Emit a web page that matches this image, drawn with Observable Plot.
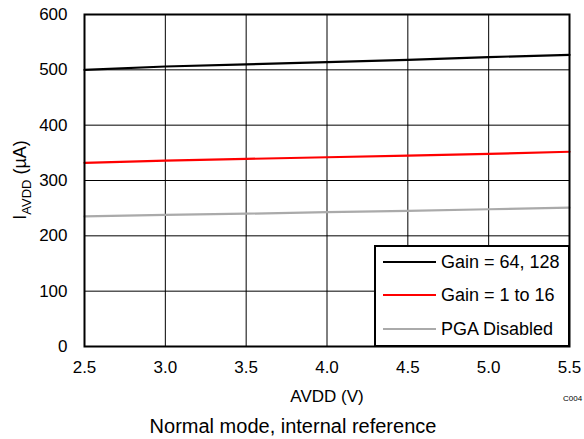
<!DOCTYPE html>
<html>
<head>
<meta charset="utf-8">
<script src="https://cdn.jsdelivr.net/npm/d3@7"></script>
<script src="https://cdn.jsdelivr.net/npm/@observablehq/plot@0.6"></script>
<style>
  html, body { margin: 0; padding: 0; background: #fff; }
  #wrap { width: 584px; position: relative; font-family: "Liberation Sans", Arial, sans-serif; }
  #caption { text-align: center; font-size: 20px; color: #000; margin-top: 4px; padding-left: 2px; }
</style>
</head>
<body>
<div id="wrap"></div>
<script>
const avdd = [2.5, 3.0, 3.5, 4.0, 4.5, 5.0, 5.5];
const gain64 = [500, 506, 510, 514, 518, 523, 527];
const gain1 = [332, 336, 339, 342, 345, 348, 352];
const pgaOff = [235, 238, 240, 243, 245, 248, 251];
const seriesNames = ["Gain = 64, 128", "Gain = 1 to 16", "PGA Disabled"];
const seriesColors = ["#000000", "#ff0000", "#aaaaaa"];
const xTicks = [2.5, 3.0, 3.5, 4.0, 4.5, 5.0, 5.5];
const yTicks = [0, 100, 200, 300, 400, 500, 600];
const captionText = "Normal mode, internal reference";

const seriesValues = [gain64, gain1, pgaOff];
const rows = [];
seriesNames.forEach((name, i) => {
  avdd.forEach((v, j) => rows.push({series: name, x: v, y: seriesValues[i][j]}));
});

const chart = Plot.plot({
  width: 584,
  height: 411,
  marginLeft: 84,
  marginRight: 15,
  marginTop: 14,
  marginBottom: 65,
  style: {fontFamily: "'Liberation Sans', Arial, sans-serif", fontSize: "17px", color: "#000", background: "#fff"},
  x: {domain: [2.5, 5.5]},
  y: {domain: [0, 600]},
  color: {domain: seriesNames, range: seriesColors},
  marks: [
    Plot.gridX(xTicks, {stroke: "#000", strokeOpacity: 1, strokeWidth: 1}),
    Plot.gridY(yTicks, {stroke: "#000", strokeOpacity: 1, strokeWidth: 1}),
    Plot.line(rows, {x: "x", y: "y", z: "series", stroke: "series", strokeWidth: 2.2}),
    Plot.frame({stroke: "#000", strokeWidth: 2}),
    Plot.axisX({ticks: xTicks, tickSize: 0, tickPadding: 14, tickFormat: d => d.toFixed(1),
      label: "AVDD (V)", labelAnchor: "center", labelOffset: 55, labelArrow: "none", fontSize: 17}),
    Plot.axisY({ticks: yTicks, tickSize: 0, tickPadding: 17, label: null, fontSize: 17})
  ]
});

document.getElementById("wrap").appendChild(chart);

const svg = d3.select(chart);
const xs = chart.scale("x"), ys = chart.scale("y");
const FONT = "'Liberation Sans', Arial, sans-serif";

// y axis title with subscript
const ylab = svg.append("text")
  .attr("transform", `translate(26, ${(ys.apply(0) + ys.apply(600)) / 2}) rotate(-90)`)
  .attr("text-anchor", "middle")
  .attr("font-size", 18)
  .attr("font-family", FONT)
  .attr("fill", "#000");
ylab.append("tspan").text("I");
ylab.append("tspan").attr("font-size", 13).attr("dy", 5).text("AVDD");
ylab.append("tspan").attr("dy", -5).text(" (µA)");

// small figure id
svg.append("text")
  .attr("x", 563).attr("y", 401)
  .attr("text-anchor", "start")
  .attr("font-size", 8)
  .attr("font-family", FONT)
  .attr("fill", "#000")
  .text("C004");

// legend
const lx0 = 375, lx1 = xs.apply(5.5), ly0 = 246, ly1 = ys.apply(0);
const lg = svg.append("g");
lg.append("rect").attr("x", lx0).attr("y", ly0).attr("width", lx1 - lx0).attr("height", ly1 - ly0)
  .attr("fill", "#fff").attr("stroke", "#000").attr("stroke-width", 2);
const rowY = [262, 295, 329];
seriesNames.forEach((name, i) => {
  lg.append("line").attr("x1", 383).attr("x2", 436).attr("y1", rowY[i]).attr("y2", rowY[i])
    .attr("stroke", seriesColors[i]).attr("stroke-width", 2.2);
  lg.append("text").attr("x", 441).attr("y", rowY[i]).attr("dy", "0.35em")
    .attr("text-anchor", "start")
    .attr("font-size", 18).attr("font-family", FONT)
    .attr("fill", "#000").text(name);
});

const cap = document.createElement("div");
cap.id = "caption";
cap.textContent = captionText;
document.getElementById("wrap").appendChild(cap);
</script>
</body>
</html>
